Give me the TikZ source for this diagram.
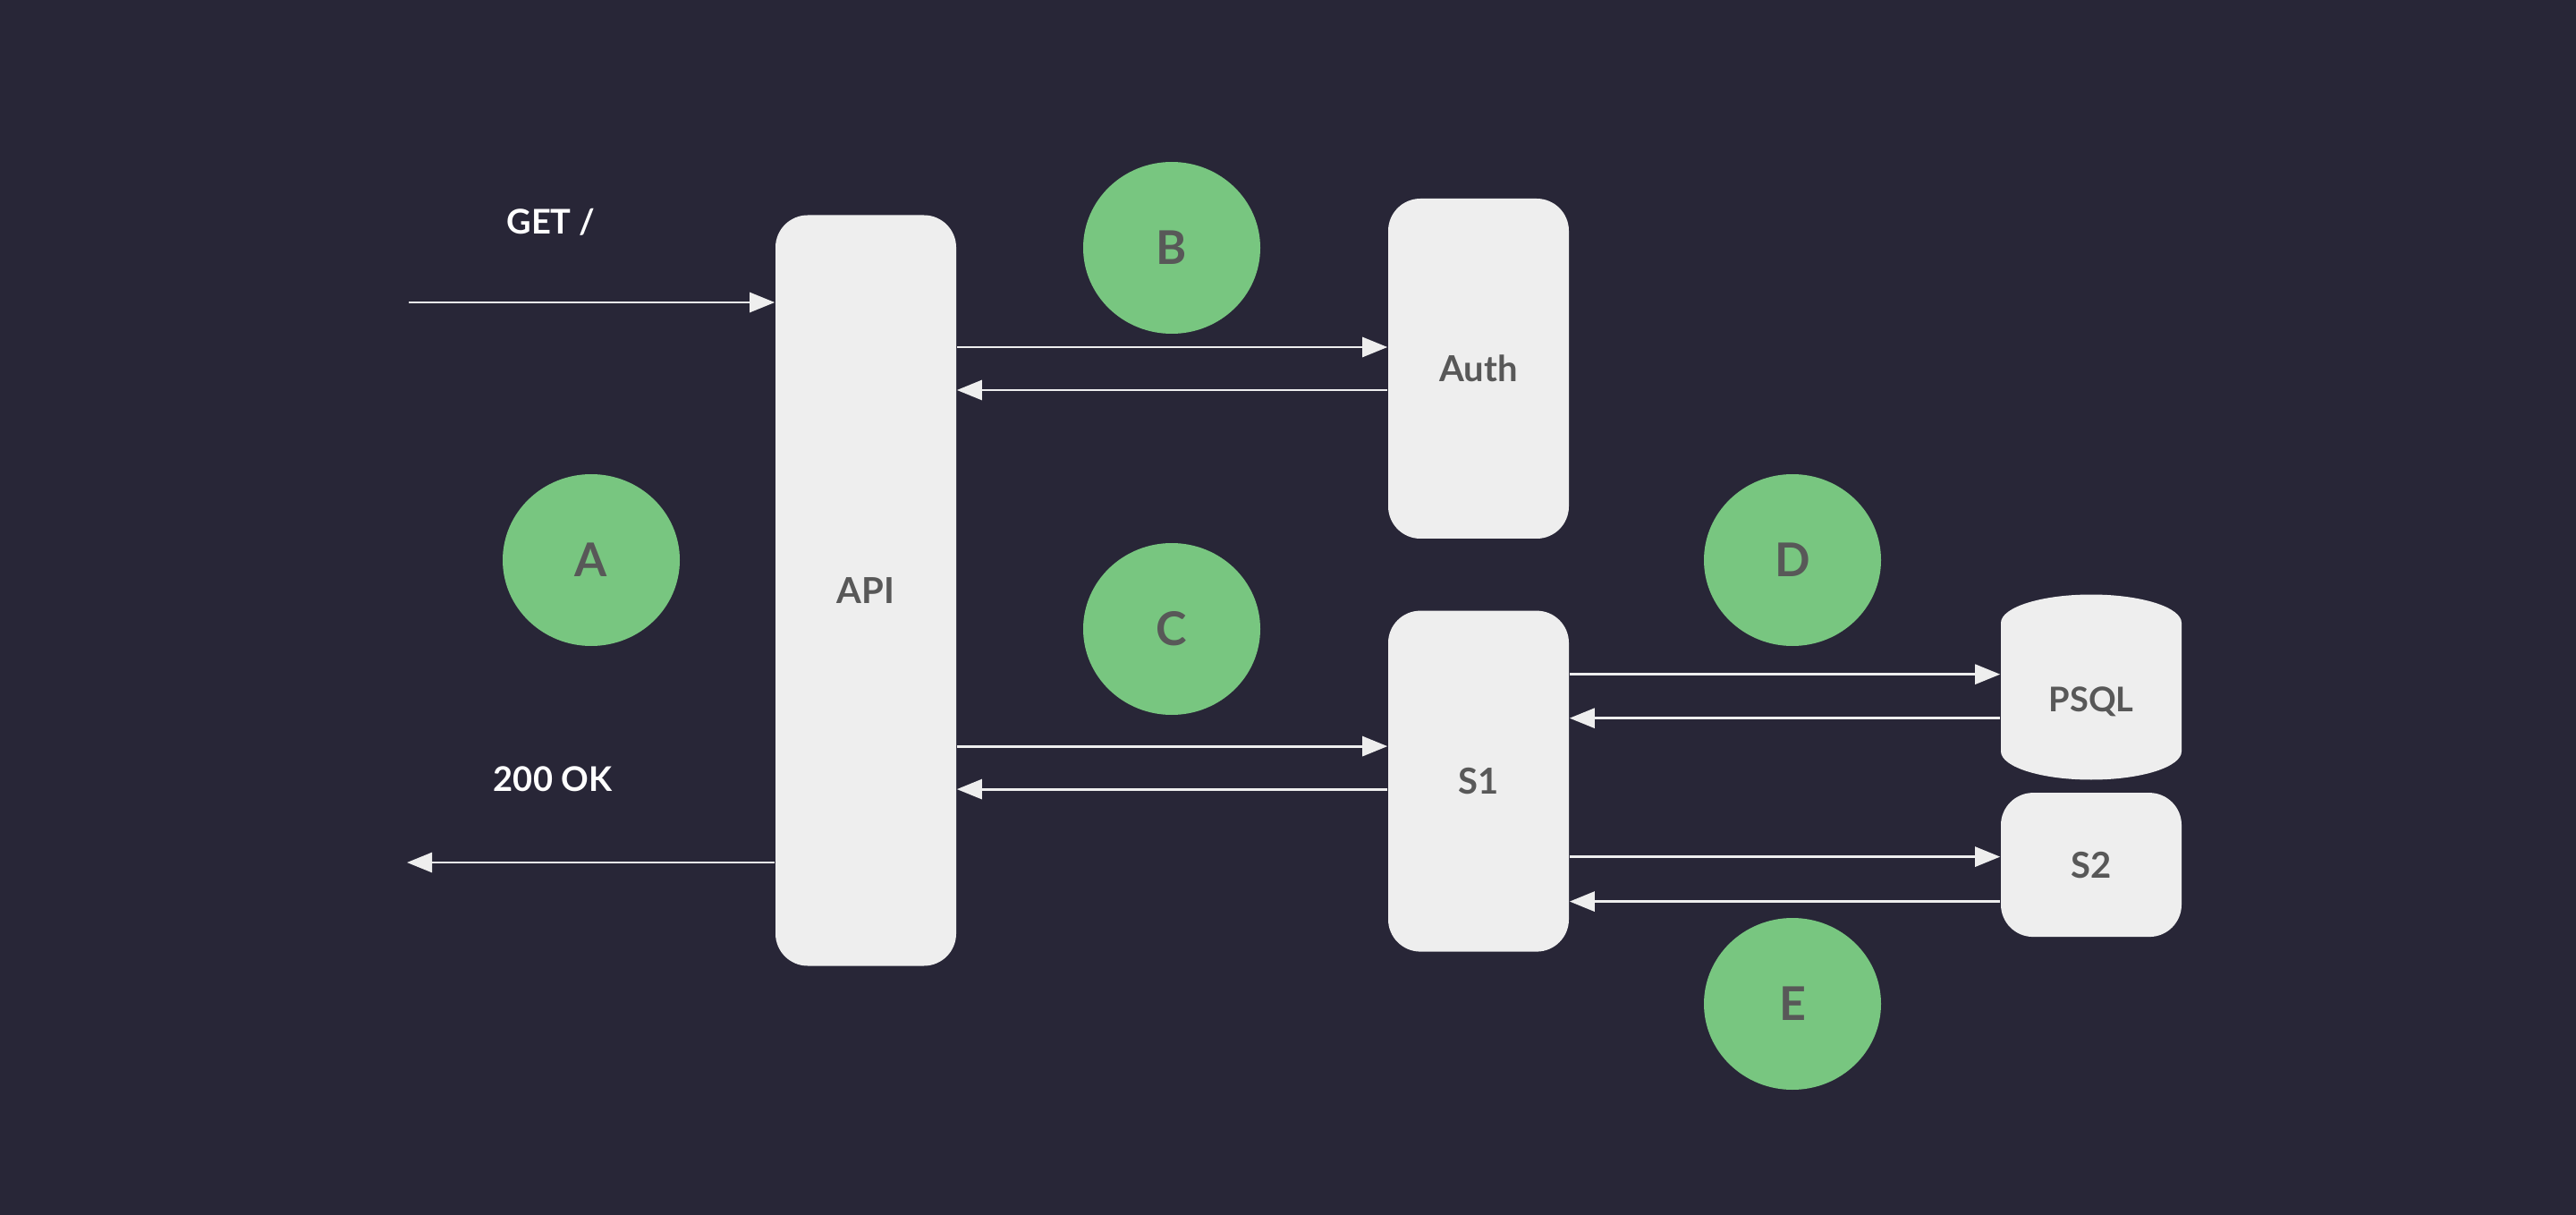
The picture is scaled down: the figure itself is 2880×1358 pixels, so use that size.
\documentclass[tikz,border=0pt]{standalone}
\usepackage{fontspec}
\setmainfont{Lato}
\usetikzlibrary{positioning, arrows.meta, shapes.geometric, calc}
\definecolor{bgdark}{HTML}{282637}
\definecolor{boxgrey}{HTML}{EEEEEE}
\definecolor{labelgrey}{HTML}{585858}
\definecolor{stepgreen}{HTML}{78C680}

\begin{document}
\begin{tikzpicture}[
        x=0.25pt, y=-0.25pt,
        svc/.style  = {fill=boxgrey, rounded corners=9pt, minimum width=50.5pt, inner sep=0, text=labelgrey, font=\fontsize{10}{12}\selectfont\bfseries},
        db/.style   = {cylinder, shape border rotate=90, aspect=0.67, fill=boxgrey, minimum width=50.5pt, minimum height=51.75pt, inner sep=0, text=labelgrey, font=\fontsize{9.5}{12}\selectfont\bfseries},
        badge/.style = {ellipse, fill=stepgreen, minimum width=49.5pt, minimum height=48pt, inner sep=0, text=labelgrey, font=\fontsize{13}{15}\selectfont\bfseries},
        msg/.style  = {anchor=base, text=white, font=\fontsize{9.5}{11}\selectfont\bfseries},
        arrow/.style = {-{Triangle[length=7pt, width=5.5pt]}, draw=boxgrey, line width=0.7pt},
    ]
        \fill[bgdark] (0,0) rectangle (2880,1358);

        % services
        \node[svc, minimum height=209.75pt] (api) at (968,660) {API};
        \node[svc, minimum height=95pt] (auth) at (1653,412) {Auth};
        \node[svc, minimum height=95.25pt, below=19.75pt of auth] (s1) {S1};
        \node[db, anchor=shape center] (psql) at (2338,768) {PSQL};
        \node[svc, minimum height=40.25pt, below=3.25pt of psql] (s2) {S2};

        % steps
        \node[badge] (a) at (661,626) {A};
        \node[badge] (b) at (1310,277) {B};
        \node[badge] (c) at (1310,703) {C};
        \node[badge] (d) at (2004,626) {D};
        \node[badge] (e) at (2004,1122) {E};

        \node[msg] (get) at (616,262) {GET /};
        \node[msg] (ok) at (618,884) {200 OK};
        \coordinate (req) at (457,338);
        \coordinate (resp) at (455,964);

        \draw[arrow] (req) -- (req -| api.west);
        \draw[arrow] (resp -| api.west) -- (resp);
        \draw[arrow] ([yshift=6pt]auth.west -| api.east) -- ([yshift=6pt]auth.west);
        \draw[arrow] ([yshift=-6pt]auth.west) -- ([yshift=-6pt]auth.west -| api.east);
        \draw[arrow] ([yshift=9.75pt]s1.west -| api.east) -- ([yshift=9.75pt]s1.west);
        \draw[arrow] ([yshift=-2.25pt]s1.west) -- ([yshift=-2.25pt]s1.west -| api.east);
        \draw[arrow] ([yshift=7.65pt]psql.west -| s1.east) -- ([yshift=7.65pt]psql.west);
        \draw[arrow] ([yshift=-4.6pt]psql.west) -- ([yshift=-4.6pt]psql.west -| s1.east);
        \draw[arrow] ([yshift=2.25pt]s2.west -| s1.east) -- ([yshift=2.25pt]s2.west);
        \draw[arrow] ([yshift=-10.25pt]s2.west) -- ([yshift=-10.25pt]s2.west -| s1.east);
    \end{tikzpicture}
\end{document}
